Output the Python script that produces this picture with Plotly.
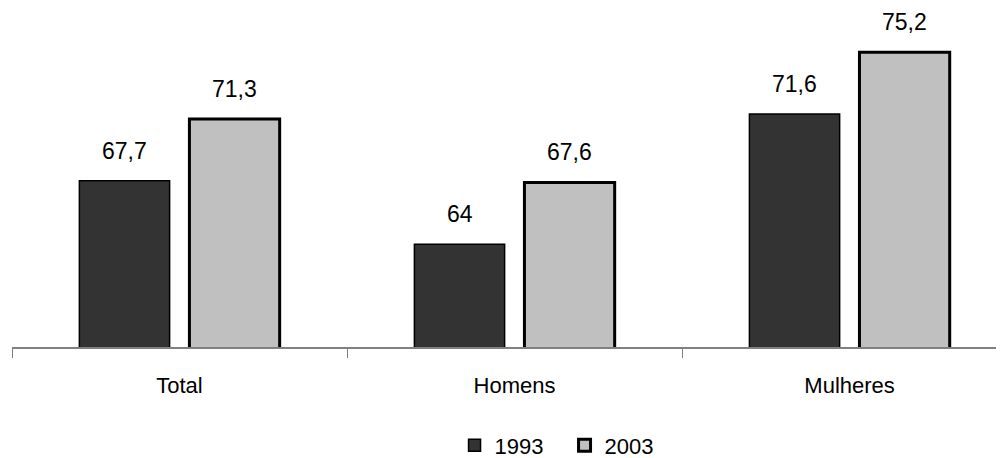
import plotly.graph_objects as go

categories = ["Total", "Homens", "Mulheres"]
series_names = ["1993", "2003"]
values_1993 = [67.7, 64, 71.6]
values_2003 = [71.3, 67.6, 75.2]

def fmt(v):
    s = ("%g" % v)
    return s.replace(".", ",")

fig = go.Figure()
fig.add_trace(go.Bar(
    name=series_names[0], x=categories, y=values_1993,
    marker=dict(color="#333333", line=dict(color="#000000", width=1.5)),
))
fig.add_trace(go.Bar(
    name=series_names[1], x=categories, y=values_2003,
    marker=dict(color="#c0c0c0", line=dict(color="#000000", width=3)),
))

annotations = []
for vals, shift in ((values_1993, -55), (values_2003, 55)):
    for c, v in zip(categories, vals):
        annotations.append(dict(
            x=c, y=v, xref="x", yref="y", text=fmt(v), showarrow=False,
            xshift=shift, yshift=30, yanchor="middle",
            font=dict(family="Liberation Sans, Arial", size=23, color="#000000"),
        ))

fig.update_layout(
    width=996, height=450,
    margin=dict(l=4, r=0, t=0, b=111, autoexpand=False),
    paper_bgcolor="white", plot_bgcolor="white",
    barmode="group", bargap=0.343, bargroupgap=0.18,
    font=dict(family="Liberation Sans, Arial", size=22, color="#000000"),
    showlegend=True,
    legend=dict(orientation="h", x=0.557, xanchor="center", yref="container",
                y=0.028, yanchor="middle",
                font=dict(size=22), itemwidth=30, entrywidth=65,
                traceorder="normal"),
    annotations=annotations,
)
fig.update_xaxes(
    range=[-0.5, 2.461], showline=True, linecolor="#808080", linewidth=2,
    ticks="outside", tickson="boundaries", ticklen=9, tickcolor="#808080",
    ticklabelstandoff=18, showgrid=False, zeroline=False,
    tickfont=dict(size=22),
)
fig.update_yaxes(range=[58, 77.78], visible=False, showgrid=False)

fig.write_html("out.html")
